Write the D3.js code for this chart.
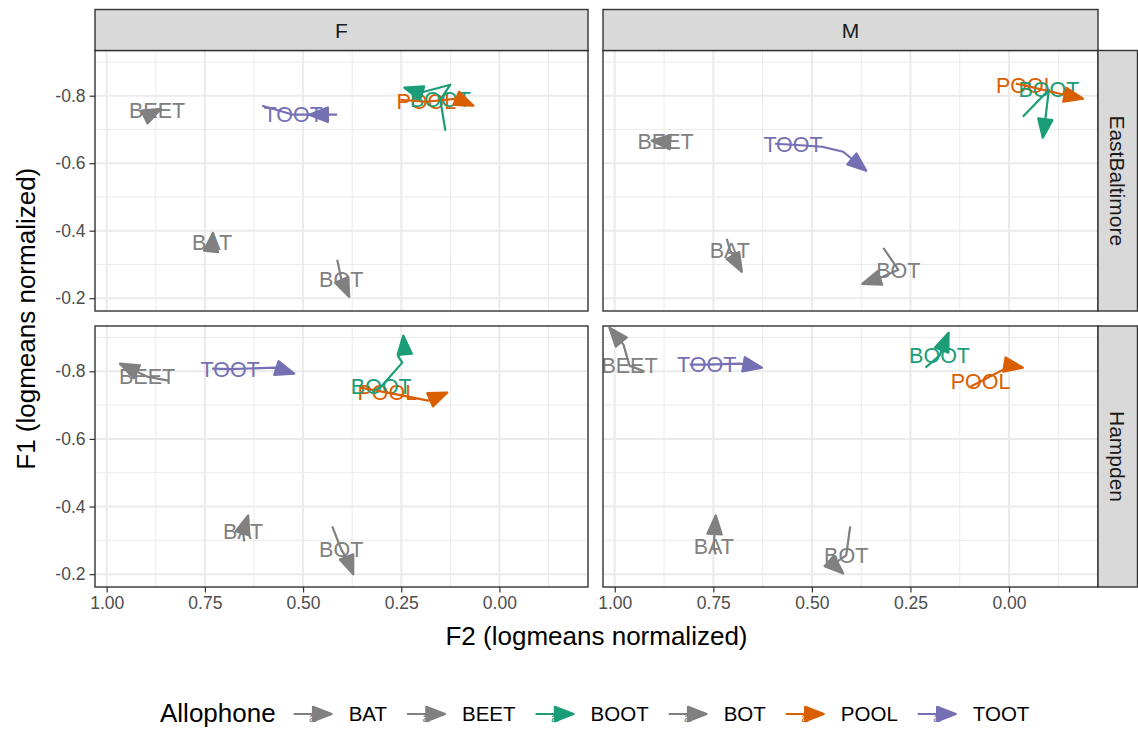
<!DOCTYPE html>
<html>
<head>
<meta charset="utf-8">
<script src="https://cdn.jsdelivr.net/npm/d3@7/dist/d3.min.js"></script>
<style>
  body { margin: 0; background: #fff; }
  text { font-family: "Liberation Sans", Arial, sans-serif; }
</style>
</head>
<body>
<svg id="chart" width="1138" height="734"></svg>
<script>
const sexes = ['F', 'M'];
const neighborhoods = ['EastBaltimore', 'Hampden'];
const allophones = ['BAT', 'BEET', 'BOOT', 'BOT', 'POOL', 'TOOT'];
const allophoneColours = ['#808080', '#808080', '#1B9E77', '#808080', '#D95F02', '#7570B3'];
const xTicks = [1.00, 0.75, 0.50, 0.25, 0.00];
const xMinor = [0.875, 0.625, 0.375, 0.125, -0.125];
const yTicks = [-0.8, -0.6, -0.4, -0.2];
const yMinor = [-0.9, -0.7, -0.5, -0.3];

// vowel trajectories (F2, F1 per time point); the label sits on the second point
const trajFEastBaltimore = [
    { allophone: 'BAT',  f2: [0.7265, 0.7316, 0.7290], f1: [-0.3374, -0.3670, -0.3937] },
    { allophone: 'BEET', f2: [0.8947, 0.8718, 0.8616], f1: [-0.7526, -0.7555, -0.7614] },
    { allophone: 'BOT',  f2: [0.4129, 0.4028, 0.3824], f1: [-0.3137, -0.2573, -0.2039] },
    { allophone: 'POOL', f2: [0.2524, 0.1861, 0.1071, 0.0663], f1: [-0.7881, -0.7822, -0.7911, -0.7703] },
    { allophone: 'BOOT', f2: [0.1376, 0.1504, 0.1249, 0.2014, 0.2422], f1: [-0.6962, -0.7881, -0.8326, -0.8089, -0.8237] },
    { allophone: 'TOOT', f2: [0.6041, 0.5251, 0.4155, 0.4843], f1: [-0.7703, -0.7437, -0.7437, -0.7437] }
];
const trajFHampden = [
    { allophone: 'BAT',  f2: [0.6500, 0.6526, 0.6398], f1: [-0.2969, -0.3265, -0.3737] },
    { allophone: 'BEET', f2: [0.8437, 0.8973, 0.9661], f1: [-0.7725, -0.7843, -0.8227] },
    { allophone: 'BOT',  f2: [0.4257, 0.4028, 0.3849, 0.3722], f1: [-0.3412, -0.2732, -0.2378, -0.1994] },
    { allophone: 'POOL', f2: [0.3543, 0.2855, 0.1810, 0.1326], f1: [-0.7518, -0.7371, -0.7134, -0.7371] },
    { allophone: 'BOOT', f2: [0.3237, 0.3008, 0.2473, 0.2575, 0.2422, 0.2447], f1: [-0.7400, -0.7548, -0.8257, -0.8434, -0.8671, -0.9055] },
    { allophone: 'TOOT', f2: [0.7316, 0.6857, 0.5710, 0.5226], f1: [-0.8080, -0.8065, -0.8109, -0.7932] }
];
const trajMEastBaltimore = [
    { allophone: 'BAT',  f2: [0.7158, 0.7081, 0.6776], f1: [-0.3759, -0.3433, -0.2781] },
    { allophone: 'BEET', f2: [0.8659, 0.8710, 0.9066], f1: [-0.6754, -0.6636, -0.6665] },
    { allophone: 'BOT',  f2: [0.3188, 0.2807, 0.3265, 0.3723], f1: [-0.3492, -0.2840, -0.2603, -0.2425] },
    { allophone: 'POOL', f2: [-0.0170, -0.0425, -0.1061, -0.1875], f1: [-0.8356, -0.8297, -0.8119, -0.7911] },
    { allophone: 'BOOT', f2: [-0.0349, -0.1010, -0.0934, -0.0857], f1: [-0.7377, -0.8178, -0.7437, -0.6754] },
    { allophone: 'TOOT', f2: [0.5936, 0.5478, 0.4740, 0.4206, 0.3621], f1: [-0.6577, -0.6547, -0.6488, -0.6339, -0.5776] }
];
const trajMHampden = [
    { allophone: 'BAT',  f2: [0.7438, 0.7489, 0.7438], f1: [-0.2585, -0.2821, -0.3737] },
    { allophone: 'BEET', f2: [0.9244, 0.9626, 0.9779, 1.0135], f1: [-0.7991, -0.8168, -0.8789, -0.9291] },
    { allophone: 'BOT',  f2: [0.4028, 0.4130, 0.4461, 0.4206], f1: [-0.3412, -0.2555, -0.2289, -0.2023] },
    { allophone: 'POOL', f2: [0.0975, 0.0720, -0.0043, -0.0349], f1: [-0.7548, -0.7696, -0.8168, -0.8109] },
    { allophone: 'BOOT', f2: [0.2120, 0.1763, 0.1534], f1: [-0.8109, -0.8464, -0.9143] },
    { allophone: 'TOOT', f2: [0.8099, 0.7667, 0.6827, 0.6267], f1: [-0.8198, -0.8198, -0.8227, -0.8109] }
];

const panels = [
    { sex: 'F', hood: 'EastBaltimore', traj: trajFEastBaltimore },
    { sex: 'M', hood: 'EastBaltimore', traj: trajMEastBaltimore },
    { sex: 'F', hood: 'Hampden', traj: trajFHampden },
    { sex: 'M', hood: 'Hampden', traj: trajMHampden }
];

// layout
const colX = [[95, 588], [603, 1098]];
const rowY = [[50.5, 311], [326, 587]];
const stripTop = 9.5;
const stripRight = 1137.5;
const xDomain = [1.0298, -0.2256];
const yDomain = [-0.934, -0.162];
const ARROW_LEN = 20;
const ARROW_ANGLE = 21 * Math.PI / 180;

const colour = d3.scaleOrdinal().domain(allophones).range(allophoneColours);
const svg = d3.select('#chart');

const arrowHead = (p0, p1) => {
    const a = Math.atan2(p1[1] - p0[1], p1[0] - p0[0]);
    const back = s => [p1[0] - ARROW_LEN * Math.cos(a + s * ARROW_ANGLE),
                       p1[1] - ARROW_LEN * Math.sin(a + s * ARROW_ANGLE)];
    return [p1, back(1), back(-1)];
};

panels.forEach(p => {
    const ci = sexes.indexOf(p.sex);
    const ri = neighborhoods.indexOf(p.hood);
    const x = d3.scaleLinear().domain(xDomain).range(colX[ci]);
    const y = d3.scaleLinear().domain(yDomain).range(rowY[ri]);
    const [x0, x1] = colX[ci];
    const [y0, y1] = rowY[ri];
    const g = svg.append('g');

    g.append('rect').attr('x', x0).attr('y', y0).attr('width', x1 - x0).attr('height', y1 - y0)
        .attr('fill', '#fff');

    g.selectAll('.vminor').data(xMinor).join('line')
        .attr('x1', d => x(d)).attr('x2', d => x(d)).attr('y1', y0).attr('y2', y1)
        .attr('stroke', '#EBEBEB').attr('stroke-width', 1);
    g.selectAll('.hminor').data(yMinor).join('line')
        .attr('y1', d => y(d)).attr('y2', d => y(d)).attr('x1', x0).attr('x2', x1)
        .attr('stroke', '#EBEBEB').attr('stroke-width', 1);
    g.selectAll('.vmajor').data(xTicks).join('line')
        .attr('x1', d => x(d)).attr('x2', d => x(d)).attr('y1', y0).attr('y2', y1)
        .attr('stroke', '#EBEBEB').attr('stroke-width', 2);
    g.selectAll('.hmajor').data(yTicks).join('line')
        .attr('y1', d => y(d)).attr('y2', d => y(d)).attr('x1', x0).attr('x2', x1)
        .attr('stroke', '#EBEBEB').attr('stroke-width', 2);

    // labels on the second point of each trajectory
    g.selectAll('.lbl').data(p.traj).join('text')
        .attr('x', d => x(d.f2[1]))
        .attr('y', d => y(d.f1[1]))
        .attr('dy', '0.36em')
        .attr('text-anchor', 'middle')
        .attr('font-size', 21.5)
        .attr('fill', d => colour(d.allophone))
        .text(d => d.allophone);

    const line = d3.line().x(d => x(d[0])).y(d => y(d[1]));
    p.traj.forEach(d => {
        const pts = d.f2.map((v, i) => [v, d.f1[i]]);
        g.append('path').attr('d', line(pts))
            .attr('fill', 'none').attr('stroke', colour(d.allophone))
            .attr('stroke-width', 2.2).attr('stroke-linejoin', 'round');
        const n = pts.length;
        const head = arrowHead([x(pts[n - 2][0]), y(pts[n - 2][1])], [x(pts[n - 1][0]), y(pts[n - 1][1])]);
        g.append('path').attr('d', 'M' + head.join('L') + 'Z')
            .attr('fill', colour(d.allophone)).attr('stroke', colour(d.allophone))
            .attr('stroke-width', 2.2).attr('stroke-linejoin', 'round');
    });

    g.append('rect').attr('x', x0).attr('y', y0).attr('width', x1 - x0).attr('height', y1 - y0)
        .attr('fill', 'none').attr('stroke', '#333').attr('stroke-width', 1.4);

    // top strip
    if (ri === 0) {
        g.append('rect').attr('x', x0).attr('y', stripTop).attr('width', x1 - x0).attr('height', y0 - stripTop)
            .attr('fill', '#D9D9D9').attr('stroke', '#333').attr('stroke-width', 1.4);
        g.append('text').attr('x', (x0 + x1) / 2).attr('y', (stripTop + y0) / 2).attr('dy', '0.36em')
            .attr('text-anchor', 'middle').attr('font-size', 21).attr('fill', '#1A1A1A').text(p.sex);
    }
    // right strip
    if (ci === 1) {
        g.append('rect').attr('x', x1).attr('y', y0).attr('width', stripRight - x1).attr('height', y1 - y0)
            .attr('fill', '#D9D9D9').attr('stroke', '#333').attr('stroke-width', 1.4);
        const cx = (x1 + stripRight) / 2, cy = (y0 + y1) / 2;
        g.append('text').attr('transform', `translate(${cx},${cy}) rotate(90)`).attr('dy', '0.36em')
            .attr('text-anchor', 'middle').attr('font-size', 21).attr('fill', '#1A1A1A').text(p.hood);
    }
    // y axis on the left column
    if (ci === 0) {
        const ax = g.append('g').attr('transform', `translate(${x0},0)`)
            .call(d3.axisLeft(y).tickValues(yTicks).tickFormat(d3.format('.1f')).tickSize(5.5).tickPadding(4));
        ax.select('.domain').remove();
        ax.selectAll('line').attr('stroke', '#333').attr('stroke-width', 1.2);
        ax.selectAll('text').attr('font-size', 17.5).attr('fill', '#4D4D4D')
            .attr('font-family', '"Liberation Sans", Arial, sans-serif')
            .text(d => d3.format('.1f')(d).replace('−', '-'));
    }
    // x axis on the bottom row
    if (ri === 1) {
        const ax = g.append('g').attr('transform', `translate(0,${y1})`)
            .call(d3.axisBottom(x).tickValues(xTicks).tickFormat(d3.format('.2f')).tickSize(5.5).tickPadding(4));
        ax.select('.domain').remove();
        ax.selectAll('line').attr('stroke', '#333').attr('stroke-width', 1.2);
        ax.selectAll('text').attr('font-size', 17.5).attr('fill', '#4D4D4D')
            .attr('font-family', '"Liberation Sans", Arial, sans-serif');
    }
});

// axis titles
svg.append('text').attr('x', (colX[0][0] + colX[1][1]) / 2).attr('y', 645)
    .attr('text-anchor', 'middle').attr('font-size', 26).attr('fill', '#000')
    .text('F2 (logmeans normalized)');
svg.append('text').attr('transform', `translate(35,${(rowY[0][0] + rowY[1][1]) / 2}) rotate(-90)`)
    .attr('text-anchor', 'middle').attr('font-size', 26).attr('fill', '#000')
    .text('F1 (logmeans normalized)');

// legend
const legend = svg.append('g');
const legendY = 714;
const title = legend.append('text').attr('x', 160).attr('y', 722)
    .attr('font-size', 26).attr('fill', '#000').text('Allophone');
let cursor = 160 + title.node().getComputedTextLength() + 18;
allophones.forEach(a => {
    const c = colour(a);
    const k = legend.append('g').attr('transform', `translate(${cursor},${legendY})`);
    k.append('text').attr('x', 19).attr('y', 8).attr('text-anchor', 'middle')
        .attr('font-size', 13).attr('fill', c).text('a');
    k.append('line').attr('x1', 0).attr('x2', 38).attr('y1', 0).attr('y2', 0)
        .attr('stroke', c).attr('stroke-width', 2.2);
    const head = arrowHead([0, 0], [38, 0]);
    k.append('path').attr('d', 'M' + head.join('L') + 'Z')
        .attr('fill', c).attr('stroke', c).attr('stroke-width', 2.2).attr('stroke-linejoin', 'round');
    const t = legend.append('text').attr('x', cursor + 55).attr('y', 721)
        .attr('font-size', 20.5).attr('fill', '#000').text(a);
    cursor += 55 + t.node().getComputedTextLength() + 20;
});
</script>
</body>
</html>
